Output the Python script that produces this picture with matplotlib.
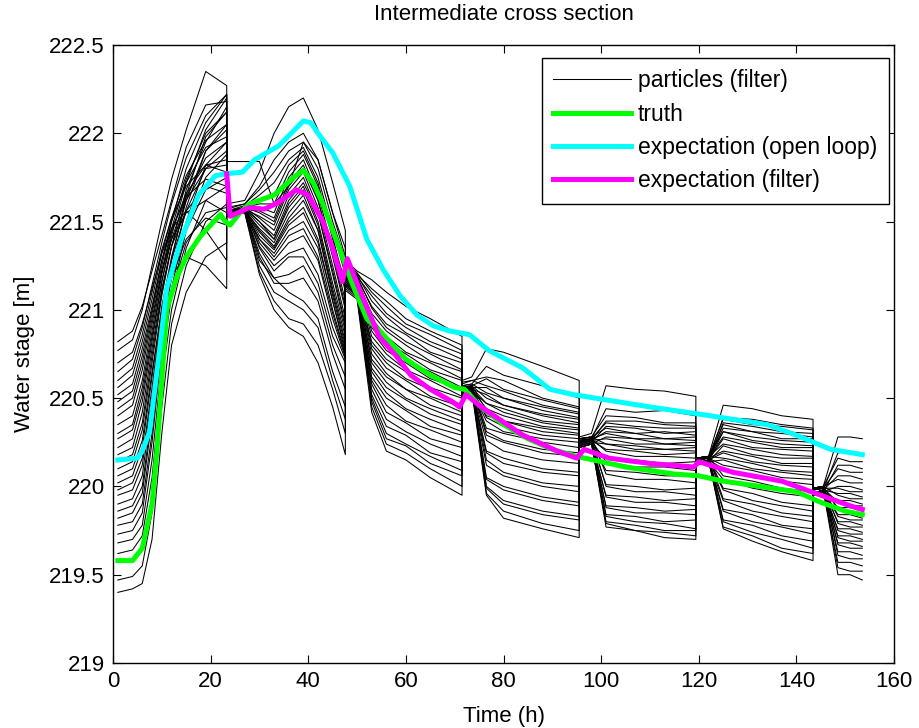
import numpy as np
import matplotlib
matplotlib.use("Agg")
import matplotlib.pyplot as plt

plt.rcParams['font.family'] = ['Liberation Sans', 'DejaVu Sans']

# ---- particle knots, one table per assimilation window (rows = particles) ----
win1_t = [1, 4, 6, 8, 10, 12, 15, 19, 23.3]
win1 = [
    [219.40, 219.42, 219.45, 219.70, 220.30, 220.80, 221.10, 221.30, 221.38],
    [219.47, 219.49, 219.55, 219.85, 220.45, 220.92, 221.25, 221.50, 221.60],
    [219.62, 219.64, 219.72, 220.05, 220.60, 221.00, 221.35, 221.62, 221.70],
    [219.68, 219.70, 219.78, 220.15, 220.70, 221.08, 221.45, 221.75, 221.88],
    [219.73, 219.75, 219.85, 220.25, 220.78, 221.12, 221.50, 221.82, 221.95],
    [219.78, 219.80, 219.90, 220.30, 220.80, 221.10, 221.38, 221.55, 221.58],
    [219.82, 219.85, 219.96, 220.38, 220.88, 221.22, 221.58, 221.90, 222.05],
    [219.86, 219.89, 220.00, 220.42, 220.88, 221.18, 221.45, 221.68, 221.75],
    [219.90, 219.93, 220.06, 220.48, 220.95, 221.28, 221.65, 221.98, 222.12],
    [219.95, 219.98, 220.12, 220.52, 220.95, 221.18, 221.40, 221.52, 221.48],
    [219.98, 220.02, 220.16, 220.56, 221.00, 221.28, 221.56, 221.80, 221.90],
    [220.02, 220.06, 220.22, 220.62, 221.02, 221.30, 221.62, 221.90, 222.02],
    [220.06, 220.10, 220.26, 220.65, 221.00, 221.20, 221.30, 221.25, 221.12],
    [220.10, 220.14, 220.32, 220.70, 221.08, 221.36, 221.68, 221.95, 222.15],
    [220.14, 220.18, 220.36, 220.74, 221.10, 221.36, 221.62, 221.80, 221.82],
    [220.18, 220.22, 220.42, 220.78, 221.12, 221.36, 221.56, 221.70, 221.66],
    [220.22, 220.27, 220.48, 220.82, 221.16, 221.42, 221.72, 222.02, 222.20],
    [220.27, 220.32, 220.52, 220.85, 221.16, 221.40, 221.64, 221.86, 221.95],
    [220.30, 220.35, 220.56, 220.88, 221.20, 221.44, 221.66, 221.82, 221.78],
    [220.35, 220.40, 220.60, 220.92, 221.22, 221.46, 221.74, 222.00, 222.12],
    [220.40, 220.46, 220.66, 220.95, 221.22, 221.40, 221.55, 221.62, 221.55],
    [220.44, 220.50, 220.70, 220.98, 221.25, 221.50, 221.80, 222.06, 222.22],
    [220.48, 220.54, 220.74, 221.00, 221.28, 221.50, 221.72, 221.92, 221.98],
    [220.52, 220.58, 220.78, 221.02, 221.28, 221.46, 221.64, 221.74, 221.70],
    [220.56, 220.63, 220.82, 221.06, 221.32, 221.52, 221.76, 221.96, 222.05],
    [220.60, 220.67, 220.86, 221.10, 221.34, 221.52, 221.70, 221.82, 221.85],
    [220.65, 220.72, 220.90, 221.14, 221.38, 221.60, 221.86, 222.10, 222.22],
    [220.70, 220.76, 220.92, 221.12, 221.32, 221.46, 221.56, 221.45, 221.28],
    [220.77, 220.83, 221.00, 221.25, 221.50, 221.74, 222.02, 222.35, 222.27],
    [220.82, 220.88, 221.02, 221.22, 221.42, 221.62, 221.92, 222.16, 222.18],
]

win2_t = [23.3, 27, 30, 33, 36, 39, 42, 45, 47.6]
win2 = [
    [221.60, 221.62, 221.78, 222.00, 222.15, 222.20, 222.02, 221.72, 221.45],
    [221.84, 221.84, 221.84, 221.60, 221.70, 221.95, 221.85, 221.55, 221.30],
    [221.58, 221.60, 221.70, 221.85, 221.95, 222.00, 221.85, 221.55, 221.35],
    [221.57, 221.60, 221.68, 221.78, 221.90, 221.95, 221.80, 221.50, 221.28],
    [221.56, 221.59, 221.65, 221.72, 221.85, 221.92, 221.75, 221.45, 221.20],
    [221.55, 221.58, 221.62, 221.65, 221.82, 221.90, 221.72, 221.40, 221.15],
    [221.56, 221.58, 221.60, 221.60, 221.78, 221.88, 221.70, 221.42, 221.10],
    [221.55, 221.57, 221.58, 221.55, 221.75, 221.85, 221.65, 221.35, 221.05],
    [221.54, 221.57, 221.56, 221.52, 221.72, 221.82, 221.62, 221.30, 221.00],
    [221.55, 221.58, 221.55, 221.50, 221.70, 221.80, 221.62, 221.32, 221.02],
    [221.53, 221.57, 221.53, 221.48, 221.68, 221.78, 221.58, 221.25, 220.95],
    [221.55, 221.58, 221.52, 221.45, 221.65, 221.75, 221.55, 221.22, 220.92],
    [221.54, 221.57, 221.50, 221.42, 221.62, 221.72, 221.55, 221.20, 220.90],
    [221.56, 221.58, 221.50, 221.40, 221.60, 221.70, 221.50, 221.15, 220.88],
    [221.55, 221.57, 221.48, 221.40, 221.58, 221.68, 221.48, 221.12, 220.85],
    [221.53, 221.56, 221.46, 221.38, 221.55, 221.65, 221.45, 221.10, 220.82],
    [221.55, 221.57, 221.45, 221.36, 221.52, 221.62, 221.45, 221.08, 220.80],
    [221.54, 221.56, 221.44, 221.35, 221.50, 221.58, 221.40, 221.05, 220.78],
    [221.56, 221.57, 221.42, 221.34, 221.48, 221.55, 221.38, 221.05, 220.76],
    [221.55, 221.56, 221.40, 221.32, 221.45, 221.50, 221.35, 221.00, 220.75],
    [221.54, 221.56, 221.40, 221.30, 221.42, 221.46, 221.30, 220.98, 220.74],
    [221.55, 221.57, 221.38, 221.28, 221.38, 221.42, 221.28, 220.95, 220.73],
    [221.53, 221.56, 221.36, 221.25, 221.32, 221.35, 221.20, 220.90, 220.72],
    [221.55, 221.57, 221.35, 221.22, 221.30, 221.30, 221.15, 220.85, 220.70],
    [221.54, 221.56, 221.32, 221.18, 221.20, 221.25, 221.10, 220.80, 220.62],
    [221.55, 221.56, 221.30, 221.15, 221.15, 221.18, 221.05, 220.75, 220.55],
    [221.54, 221.56, 221.28, 221.18, 221.10, 221.05, 220.95, 220.65, 220.45],
    [221.55, 221.56, 221.25, 221.10, 221.05, 221.00, 220.90, 220.60, 220.38],
    [221.53, 221.55, 221.22, 221.05, 220.95, 220.92, 220.80, 220.55, 220.30],
    [221.54, 221.55, 221.20, 221.00, 220.90, 220.85, 220.70, 220.45, 220.18],
]

win3_t = [47.6, 50, 53, 56, 60, 65, 71.5]
win3 = [
    [221.28, 221.22, 221.17, 221.10, 221.02, 220.95, 220.85],
    [221.25, 221.20, 221.12, 221.05, 220.95, 220.88, 220.80],
    [221.27, 221.21, 221.10, 221.02, 220.92, 220.86, 220.77],
    [221.24, 221.19, 221.08, 220.98, 220.90, 220.82, 220.75],
    [221.26, 221.20, 221.05, 220.96, 220.87, 220.80, 220.72],
    [221.23, 221.18, 221.02, 220.92, 220.86, 220.76, 220.70],
    [221.25, 221.19, 221.01, 220.90, 220.82, 220.75, 220.66],
    [221.22, 221.17, 220.98, 220.88, 220.80, 220.71, 220.65],
    [221.24, 221.18, 220.95, 220.85, 220.76, 220.70, 220.61],
    [221.21, 221.16, 220.93, 220.82, 220.75, 220.66, 220.60],
    [221.23, 221.17, 220.90, 220.80, 220.71, 220.65, 220.56],
    [221.20, 221.15, 220.88, 220.77, 220.70, 220.61, 220.55],
    [221.22, 221.16, 220.85, 220.75, 220.66, 220.60, 220.51],
    [221.19, 221.14, 220.82, 220.72, 220.65, 220.56, 220.50],
    [221.21, 221.15, 220.80, 220.70, 220.61, 220.55, 220.46],
    [221.18, 221.13, 220.78, 220.67, 220.60, 220.51, 220.45],
    [221.20, 221.14, 220.75, 220.64, 220.55, 220.50, 220.42],
    [221.17, 221.12, 220.72, 220.62, 220.55, 220.46, 220.40],
    [221.19, 221.13, 220.70, 220.59, 220.50, 220.44, 220.37],
    [221.16, 221.11, 220.67, 220.56, 220.49, 220.41, 220.35],
    [221.18, 221.12, 220.65, 220.53, 220.44, 220.38, 220.31],
    [221.15, 221.10, 220.62, 220.50, 220.43, 220.34, 220.29],
    [221.17, 221.11, 220.60, 220.46, 220.37, 220.32, 220.25],
    [221.14, 221.09, 220.58, 220.42, 220.36, 220.27, 220.22],
    [221.16, 221.10, 220.55, 220.38, 220.31, 220.24, 220.17],
    [221.13, 221.08, 220.52, 220.34, 220.29, 220.19, 220.14],
    [221.15, 221.09, 220.50, 220.30, 220.24, 220.17, 220.09],
    [221.12, 221.07, 220.48, 220.27, 220.23, 220.13, 220.06],
    [221.14, 221.08, 220.45, 220.24, 220.19, 220.10, 220.00],
    [221.11, 221.06, 220.42, 220.20, 220.15, 220.05, 219.95],
]

win4_t = [71.5, 73.5, 76.5, 80, 88, 95.5]
win4 = [
    [220.60, 220.62, 220.78, 220.76, 220.68, 220.60],
    [220.57, 220.58, 220.68, 220.63, 220.57, 220.50],
    [220.58, 220.60, 220.62, 220.60, 220.50, 220.45],
    [220.55, 220.57, 220.61, 220.55, 220.49, 220.44],
    [220.59, 220.60, 220.57, 220.54, 220.46, 220.42],
    [220.54, 220.56, 220.56, 220.50, 220.45, 220.41],
    [220.57, 220.58, 220.53, 220.50, 220.43, 220.39],
    [220.53, 220.55, 220.52, 220.46, 220.41, 220.38],
    [220.56, 220.57, 220.50, 220.46, 220.40, 220.36],
    [220.52, 220.54, 220.47, 220.44, 220.37, 220.35],
    [220.55, 220.56, 220.47, 220.42, 220.36, 220.33],
    [220.53, 220.55, 220.44, 220.40, 220.34, 220.32],
    [220.56, 220.57, 220.43, 220.37, 220.33, 220.30],
    [220.54, 220.55, 220.40, 220.37, 220.31, 220.29],
    [220.55, 220.56, 220.39, 220.34, 220.29, 220.27],
    [220.52, 220.54, 220.37, 220.31, 220.27, 220.25],
    [220.55, 220.56, 220.33, 220.30, 220.25, 220.22],
    [220.53, 220.55, 220.31, 220.26, 220.21, 220.19],
    [220.56, 220.57, 220.29, 220.25, 220.19, 220.17],
    [220.54, 220.55, 220.26, 220.20, 220.15, 220.13],
    [220.55, 220.56, 220.20, 220.16, 220.10, 220.08],
    [220.53, 220.54, 220.19, 220.13, 220.08, 220.06],
    [220.56, 220.57, 220.15, 220.08, 220.02, 220.00],
    [220.54, 220.55, 220.12, 220.06, 220.00, 219.97],
    [220.55, 220.56, 220.05, 220.00, 219.94, 219.91],
    [220.53, 220.54, 220.04, 219.98, 219.92, 219.89],
    [220.56, 220.57, 220.00, 219.92, 219.86, 219.83],
    [220.54, 220.55, 219.99, 219.90, 219.84, 219.81],
    [220.55, 220.56, 219.96, 219.86, 219.79, 219.75],
    [220.53, 220.54, 219.95, 219.82, 219.76, 219.71],
]

win5_t = [95.5, 98, 101, 107, 113, 119.4]
win5 = [
    [220.28, 220.30, 220.57, 220.55, 220.54, 220.51],
    [220.25, 220.27, 220.44, 220.42, 220.43, 220.40],
    [220.27, 220.28, 220.40, 220.39, 220.36, 220.36],
    [220.24, 220.26, 220.37, 220.37, 220.35, 220.34],
    [220.26, 220.27, 220.36, 220.34, 220.33, 220.33],
    [220.23, 220.25, 220.34, 220.33, 220.30, 220.31],
    [220.27, 220.28, 220.33, 220.30, 220.31, 220.29],
    [220.24, 220.26, 220.31, 220.30, 220.27, 220.28],
    [220.26, 220.27, 220.30, 220.27, 220.27, 220.26],
    [220.22, 220.24, 220.28, 220.27, 220.24, 220.25],
    [220.25, 220.26, 220.27, 220.24, 220.24, 220.23],
    [220.23, 220.25, 220.24, 220.23, 220.21, 220.22],
    [220.27, 220.28, 220.24, 220.21, 220.21, 220.20],
    [220.24, 220.26, 220.21, 220.20, 220.18, 220.19],
    [220.26, 220.27, 220.20, 220.17, 220.17, 220.16],
    [220.22, 220.24, 220.16, 220.15, 220.13, 220.14],
    [220.25, 220.26, 220.14, 220.11, 220.11, 220.09],
    [220.23, 220.25, 220.09, 220.08, 220.06, 220.06],
    [220.27, 220.28, 220.07, 220.04, 220.04, 220.02],
    [220.24, 220.26, 220.01, 220.00, 219.98, 219.99],
    [220.26, 220.27, 220.00, 219.97, 219.97, 219.95],
    [220.22, 220.24, 219.95, 219.94, 219.92, 219.93],
    [220.25, 220.26, 219.94, 219.91, 219.91, 219.89],
    [220.23, 220.25, 219.89, 219.88, 219.86, 219.87],
    [220.27, 220.28, 219.88, 219.85, 219.85, 219.84],
    [220.24, 220.26, 219.84, 219.83, 219.80, 219.81],
    [220.26, 220.27, 219.83, 219.80, 219.79, 219.76],
    [220.22, 220.24, 219.80, 219.78, 219.75, 219.75],
    [220.25, 220.26, 219.79, 219.75, 219.74, 219.72],
    [220.23, 220.25, 219.77, 219.75, 219.71, 219.70],
]

win6_t = [119.4, 122, 125, 131, 137, 143.4]
win6 = [
    [220.15, 220.17, 220.46, 220.44, 220.40, 220.38],
    [220.13, 220.15, 220.39, 220.38, 220.35, 220.33],
    [220.16, 220.17, 220.38, 220.35, 220.34, 220.32],
    [220.12, 220.14, 220.36, 220.34, 220.31, 220.30],
    [220.15, 220.16, 220.35, 220.31, 220.30, 220.28],
    [220.13, 220.15, 220.33, 220.31, 220.27, 220.27],
    [220.16, 220.17, 220.31, 220.28, 220.26, 220.25],
    [220.12, 220.14, 220.31, 220.26, 220.24, 220.23],
    [220.15, 220.16, 220.28, 220.25, 220.22, 220.22],
    [220.13, 220.15, 220.27, 220.22, 220.21, 220.20],
    [220.16, 220.17, 220.24, 220.21, 220.18, 220.17],
    [220.12, 220.14, 220.23, 220.18, 220.16, 220.16],
    [220.15, 220.16, 220.20, 220.17, 220.13, 220.13],
    [220.13, 220.15, 220.19, 220.14, 220.12, 220.11],
    [220.16, 220.17, 220.16, 220.13, 220.09, 220.08],
    [220.12, 220.14, 220.15, 220.10, 220.08, 220.06],
    [220.15, 220.16, 220.12, 220.09, 220.05, 220.04],
    [220.13, 220.15, 220.10, 220.05, 220.03, 220.01],
    [220.16, 220.17, 220.06, 220.03, 219.99, 219.97],
    [220.12, 220.14, 220.04, 219.99, 219.96, 219.94],
    [220.15, 220.16, 219.99, 219.96, 219.91, 219.89],
    [220.13, 220.15, 219.98, 219.92, 219.89, 219.86],
    [220.16, 220.17, 219.93, 219.90, 219.85, 219.83],
    [220.12, 220.14, 219.92, 219.86, 219.83, 219.80],
    [220.15, 220.16, 219.87, 219.84, 219.78, 219.76],
    [220.13, 220.15, 219.86, 219.80, 219.77, 219.73],
    [220.16, 220.17, 219.81, 219.78, 219.72, 219.69],
    [220.12, 220.14, 219.80, 219.74, 219.70, 219.65],
    [220.15, 220.16, 219.77, 219.72, 219.65, 219.62],
    [220.13, 220.15, 219.76, 219.69, 219.63, 219.58],
]

win7_t = [143.4, 145.5, 148.5, 151, 153.5]
win7 = [
    [219.98, 220.00, 220.28, 220.28, 220.27],
    [219.96, 219.98, 220.19, 220.20, 220.18],
    [219.99, 220.00, 220.16, 220.14, 220.14],
    [219.95, 219.97, 220.12, 220.12, 220.10],
    [219.98, 219.99, 220.10, 220.08, 220.08],
    [219.96, 219.98, 220.06, 220.06, 220.04],
    [219.99, 220.00, 220.04, 220.02, 220.02],
    [219.95, 219.97, 220.00, 220.00, 219.98],
    [219.98, 219.99, 219.99, 219.97, 219.97],
    [219.96, 219.98, 219.96, 219.96, 219.94],
    [219.99, 220.00, 219.95, 219.93, 219.93],
    [219.95, 219.97, 219.92, 219.92, 219.90],
    [219.98, 219.99, 219.91, 219.89, 219.89],
    [219.96, 219.98, 219.88, 219.88, 219.86],
    [219.99, 220.00, 219.87, 219.85, 219.85],
    [219.95, 219.97, 219.84, 219.84, 219.82],
    [219.98, 219.99, 219.83, 219.81, 219.81],
    [219.96, 219.98, 219.80, 219.80, 219.78],
    [219.99, 220.00, 219.79, 219.77, 219.77],
    [219.95, 219.97, 219.76, 219.76, 219.74],
    [219.98, 219.99, 219.75, 219.73, 219.73],
    [219.96, 219.98, 219.72, 219.72, 219.70],
    [219.99, 220.00, 219.71, 219.69, 219.69],
    [219.95, 219.97, 219.68, 219.68, 219.66],
    [219.98, 219.99, 219.67, 219.65, 219.65],
    [219.96, 219.98, 219.63, 219.63, 219.61],
    [219.99, 220.00, 219.61, 219.59, 219.59],
    [219.95, 219.97, 219.57, 219.57, 219.55],
    [219.98, 219.99, 219.54, 219.52, 219.52],
    [219.96, 219.98, 219.50, 219.50, 219.47],
]

# ---- truth and expectations ----
truth_t = [1, 4, 6, 8, 9, 10, 11, 13, 15, 18, 20, 22, 23, 24, 26, 28, 30, 33, 35, 37,
           39, 41, 43, 45, 47, 49, 52, 55, 60, 65, 70, 72, 75, 80, 85, 90, 95, 100,
           105, 110, 115, 120, 125, 130, 135, 140, 145, 150, 153.5]
truth_v = [219.58, 219.58, 219.65, 219.90, 220.20, 220.60, 221.00, 221.18, 221.30,
           221.42, 221.48, 221.54, 221.50, 221.48, 221.55, 221.60, 221.62, 221.65,
           221.70, 221.75, 221.79, 221.72, 221.60, 221.45, 221.30, 221.15, 220.95,
           220.87, 220.72, 220.63, 220.56, 220.55, 220.46, 220.35, 220.27, 220.21,
           220.17, 220.14, 220.11, 220.09, 220.07, 220.06, 220.03, 220.01, 219.99,
           219.97, 219.91, 219.86, 219.84]

openloop_t = [1, 5, 6, 7.5, 9.5, 11, 14, 17.5, 21, 23, 26.5, 29, 34, 39, 40.5, 42, 45,
              48.5, 52, 55.3, 58.8, 62.3, 65.6, 69, 73, 77, 84, 89.5, 94.3, 110, 120,
              134, 140, 147, 153.5]
openloop_v = [220.15, 220.16, 220.20, 220.31, 220.76, 221.12, 221.40, 221.65, 221.76,
              221.77, 221.78, 221.85, 221.93, 222.07, 222.06, 222.00, 221.89, 221.70,
              221.40, 221.23, 221.08, 220.97, 220.91, 220.88, 220.86, 220.77, 220.67,
              220.55, 220.52, 220.45, 220.41, 220.35, 220.29, 220.21, 220.18]

filter_t = [23.3, 24, 28, 31, 34, 37.5, 40, 43, 45, 47, 48, 51, 54.5, 58, 61, 65, 69.5,
            71, 72.3, 75, 77, 84, 91, 95, 96.5, 101.6, 110, 119, 120, 127, 137, 144,
            151, 153.5]
filter_v = [221.77, 221.53, 221.58, 221.57, 221.61, 221.68, 221.65, 221.50, 221.35,
            221.16, 221.29, 221.08, 220.85, 220.74, 220.63, 220.55, 220.48, 220.45,
            220.52, 220.46, 220.42, 220.29, 220.20, 220.16, 220.21, 220.16, 220.13,
            220.11, 220.14, 220.08, 220.03, 219.96, 219.89, 219.87]

windows = [(win1_t, win1), (win2_t, win2), (win3_t, win3), (win4_t, win4),
           (win5_t, win5), (win6_t, win6), (win7_t, win7)]

fig = plt.figure(figsize=(9.2, 7.28), dpi=100)
ax = fig.add_axes([0.1228, 0.0893, 0.849, 0.8489])

# particles: chain the windows so resampling shows as vertical jumps
n_particles = len(win1)
for i in range(n_particles):
    t_all, v_all = [], []
    for wt, wv in windows:
        t_all += list(wt)
        v_all += list(wv[i])
    ax.plot(t_all, v_all, color='black', lw=0.75,
            label='particles (filter)' if i == 0 else None, zorder=2)

ax.plot(truth_t, truth_v, color='#00ff00', lw=3.6, label='truth', zorder=3)
ax.plot(openloop_t, openloop_v, color='#00ffff', lw=3.6,
        label='expectation (open loop)', zorder=4)
ax.plot(filter_t, filter_v, color='#ff00ff', lw=3.6,
        label='expectation (filter)', zorder=5)

ax.set_xlim(0, 160)
ax.set_ylim(219, 222.5)
ax.set_xticks(np.arange(0, 161, 20))
ax.set_yticks(np.arange(219, 222.51, 0.5))
ax.set_yticklabels(['219', '219.5', '220', '220.5', '221', '221.5', '222', '222.5'])
ax.tick_params(direction='in', length=6, width=0.8, top=True, right=True,
               labelsize=16, pad=6)
for sp in ax.spines.values():
    sp.set_linewidth(1.0)

ax.set_title('Intermediate cross section', fontsize=16, pad=18)
ax.set_xlabel('Time (h)', fontsize=16, labelpad=10)
ax.set_ylabel('Water stage [m]', fontsize=16, labelpad=10)

leg = ax.legend(loc='upper right', bbox_to_anchor=(0.993, 0.979), fontsize=16.5,
                frameon=True, fancybox=False, edgecolor='black', framealpha=1,
                handlelength=3.4, handletextpad=0.3, labelspacing=0.45,
                borderpad=0.5, borderaxespad=0)
leg.get_frame().set_linewidth(1.0)

fig.savefig('out.png', dpi=100)
